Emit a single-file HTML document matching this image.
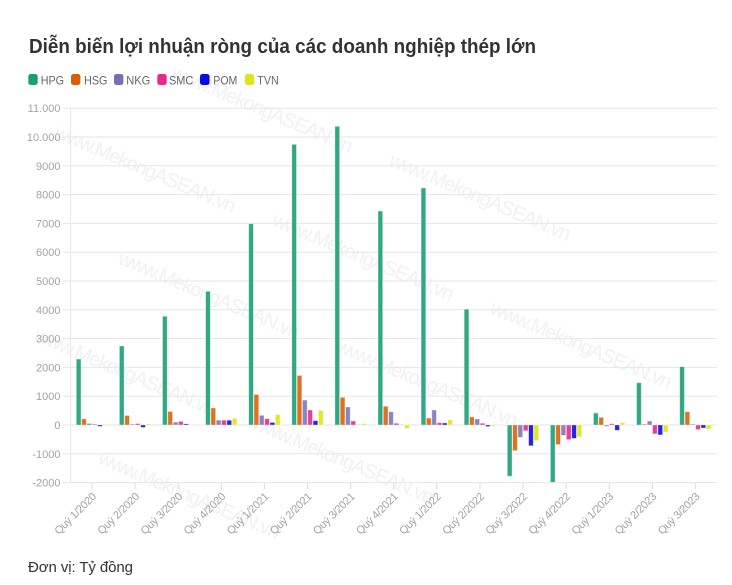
<!DOCTYPE html>
<html><head><meta charset="utf-8">
<style>
html,body{margin:0;padding:0;background:#fff;width:732px;height:585px;overflow:hidden;}
svg{display:block;overflow:hidden;font-family:"Liberation Sans","DejaVu Sans",sans-serif;}
.wm{fill:#f0f1f5;font-size:20px;}
.yl{fill:#a3a3a3;font-size:11px;text-anchor:end;}
.xl{fill:#a3a3a3;font-size:11px;text-anchor:end;}
.g rect{stroke:rgba(255,255,255,0.45);stroke-width:0.8;vector-effect:non-scaling-stroke;}
.a{fill:#1b9e77;fill-opacity:.9}.b{fill:#d95f02;fill-opacity:.88}.c{fill:#7570b3;fill-opacity:.85}
.d{fill:#e7298a;fill-opacity:.9}.e{fill:#0a0ae6;fill-opacity:.9}.f{fill:#dfe60f;fill-opacity:.9}
</style></head>
<body>
<svg width="732" height="585" viewBox="0 0 732 585" xmlns="http://www.w3.org/2000/svg">
<!-- watermarks -->
<g>
<text class="wm" transform="translate(53,137) rotate(23)" textLength="195">www.MekongASEAN.vn</text>
<text class="wm" transform="translate(271,225) rotate(23)" textLength="195">www.MekongASEAN.vn</text>
<text class="wm" transform="translate(489,313) rotate(23)" textLength="195">www.MekongASEAN.vn</text>
<text class="wm" transform="translate(170,77) rotate(23)" textLength="195">www.MekongASEAN.vn</text>
<text class="wm" transform="translate(388,165) rotate(23)" textLength="195">www.MekongASEAN.vn</text>
<text class="wm" transform="translate(117,263) rotate(23)" textLength="195">www.MekongASEAN.vn</text>
<text class="wm" transform="translate(335,351) rotate(23)" textLength="195">www.MekongASEAN.vn</text>
<text class="wm" transform="translate(33,340) rotate(23)" textLength="195">www.MekongASEAN.vn</text>
<text class="wm" transform="translate(251,428) rotate(23)" textLength="195">www.MekongASEAN.vn</text>
<text class="wm" transform="translate(97,463) rotate(23)" textLength="195">www.MekongASEAN.vn</text>
</g>

<!-- title -->
<text x="29" y="53" font-size="20" font-weight="bold" fill="#333" textLength="507" lengthAdjust="spacingAndGlyphs">Diễn biến lợi nhuận ròng của các doanh nghiệp thép lớn</text>

<!-- legend -->
<g font-size="12" fill="#666">
<rect x="28.3" y="74" width="9.4" height="11" rx="2.5" fill="#1b9e77"/><text x="40.7" y="84.3" textLength="23.3" lengthAdjust="spacingAndGlyphs">HPG</text>
<rect x="71" y="74" width="9.4" height="11" rx="2.5" fill="#d95f02"/><text x="84" y="84.3" textLength="23.5" lengthAdjust="spacingAndGlyphs">HSG</text>
<rect x="114" y="74" width="9.4" height="11" rx="2.5" fill="#7570b3"/><text x="126.3" y="84.3" textLength="24" lengthAdjust="spacingAndGlyphs">NKG</text>
<rect x="157.3" y="74" width="9.4" height="11" rx="2.5" fill="#e7298a"/><text x="169" y="84.3" textLength="24.3" lengthAdjust="spacingAndGlyphs">SMC</text>
<rect x="200" y="74" width="9.6" height="11" rx="2.5" fill="#0a0ae6"/><text x="213.3" y="84.3" textLength="24" lengthAdjust="spacingAndGlyphs">POM</text>
<rect x="245" y="74" width="9.2" height="11" rx="2.5" fill="#dde61a"/><text x="257.3" y="84.3" textLength="21.4" lengthAdjust="spacingAndGlyphs">TVN</text>
</g>

<!-- gridlines -->
<g stroke="#e6e6e6" stroke-width="1">
<line x1="63" x2="717" y1="108.2" y2="108.2"/>
<line x1="63" x2="717" y1="137" y2="137"/>
<line x1="63" x2="717" y1="165.8" y2="165.8"/>
<line x1="63" x2="717" y1="194.6" y2="194.6"/>
<line x1="63" x2="717" y1="223.4" y2="223.4"/>
<line x1="63" x2="717" y1="252.2" y2="252.2"/>
<line x1="63" x2="717" y1="281" y2="281"/>
<line x1="63" x2="717" y1="309.8" y2="309.8"/>
<line x1="63" x2="717" y1="338.6" y2="338.6"/>
<line x1="63" x2="717" y1="367.4" y2="367.4"/>
<line x1="63" x2="717" y1="396.2" y2="396.2"/>
<line x1="63" x2="717" y1="425" y2="425"/>
<line x1="63" x2="717" y1="453.8" y2="453.8"/>
<line x1="63" x2="717" y1="482.6" y2="482.6"/>
<line x1="70.5" x2="70.5" y1="108" y2="483"/>
</g>
<!-- x ticks -->
<g stroke="#dcdcdc" stroke-width="1">
<line x1="92" x2="92" y1="483" y2="489"/>
<line x1="135.1" x2="135.1" y1="483" y2="489"/>
<line x1="178.2" x2="178.2" y1="483" y2="489"/>
<line x1="221.3" x2="221.3" y1="483" y2="489"/>
<line x1="264.4" x2="264.4" y1="483" y2="489"/>
<line x1="307.5" x2="307.5" y1="483" y2="489"/>
<line x1="350.6" x2="350.6" y1="483" y2="489"/>
<line x1="393.7" x2="393.7" y1="483" y2="489"/>
<line x1="436.8" x2="436.8" y1="483" y2="489"/>
<line x1="479.9" x2="479.9" y1="483" y2="489"/>
<line x1="523" x2="523" y1="483" y2="489"/>
<line x1="566.1" x2="566.1" y1="483" y2="489"/>
<line x1="609.2" x2="609.2" y1="483" y2="489"/>
<line x1="652.3" x2="652.3" y1="483" y2="489"/>
<line x1="695.4" x2="695.4" y1="483" y2="489"/>
</g>

<!-- y labels -->
<g class="yl">
<text x="60.5" y="112.2">11.000</text>
<text x="60.5" y="141">10.000</text>
<text x="60.5" y="169.8">9000</text>
<text x="60.5" y="198.6">8000</text>
<text x="60.5" y="227.4">7000</text>
<text x="60.5" y="256.2">6000</text>
<text x="60.5" y="285">5000</text>
<text x="60.5" y="313.8">4000</text>
<text x="60.5" y="342.6">3000</text>
<text x="60.5" y="371.4">2000</text>
<text x="60.5" y="400.2">1000</text>
<text x="60.5" y="429">0</text>
<text x="60.5" y="457.8">-1000</text>
<text x="60.5" y="486.6">-2000</text>
</g>

<!-- bars -->
<g class="g" transform="translate(92,425) scale(1,-0.0288)">
<rect class="a" x="-15.7" y="0" width="4.7" height="2290"/>
<rect class="b" x="-10.37" y="0" width="4.7" height="215"/>
<rect class="c" x="-5.04" y="0" width="4.7" height="55"/>
<rect class="d" x="0.29" y="0" width="4.7" height="30"/>
<rect class="e" x="5.62" y="-50" width="4.7" height="50"/>
<rect class="f" x="10.95" y="0" width="4.7" height="25"/>
</g>
<g class="g" transform="translate(135.1,425) scale(1,-0.0288)">
<rect class="a" x="-15.7" y="0" width="4.7" height="2745"/>
<rect class="b" x="-10.37" y="0" width="4.7" height="330"/>
<rect class="c" x="-5.04" y="0" width="4.7" height="30"/>
<rect class="d" x="0.29" y="0" width="4.7" height="50"/>
<rect class="e" x="5.62" y="-85" width="4.7" height="85"/>
<rect class="f" x="10.95" y="0" width="4.7" height="40"/>
</g>
<g class="g" transform="translate(178.2,425) scale(1,-0.0288)">
<rect class="a" x="-15.7" y="0" width="4.7" height="3775"/>
<rect class="b" x="-10.37" y="0" width="4.7" height="470"/>
<rect class="c" x="-5.04" y="0" width="4.7" height="100"/>
<rect class="d" x="0.29" y="0" width="4.7" height="125"/>
<rect class="e" x="5.62" y="0" width="4.7" height="40"/>
<rect class="f" x="10.95" y="0" width="4.7" height="10"/>
</g>
<g class="g" transform="translate(221.3,425) scale(1,-0.0288)">
<rect class="a" x="-15.7" y="0" width="4.7" height="4640"/>
<rect class="b" x="-10.37" y="0" width="4.7" height="590"/>
<rect class="c" x="-5.04" y="0" width="4.7" height="170"/>
<rect class="d" x="0.29" y="0" width="4.7" height="165"/>
<rect class="e" x="5.62" y="0" width="4.7" height="165"/>
<rect class="f" x="10.95" y="0" width="4.7" height="230"/>
</g>
<g class="g" transform="translate(264.4,425) scale(1,-0.0288)">
<rect class="a" x="-15.7" y="0" width="4.7" height="6990"/>
<rect class="b" x="-10.37" y="0" width="4.7" height="1060"/>
<rect class="c" x="-5.04" y="0" width="4.7" height="335"/>
<rect class="d" x="0.29" y="0" width="4.7" height="220"/>
<rect class="e" x="5.62" y="0" width="4.7" height="90"/>
<rect class="f" x="10.95" y="0" width="4.7" height="360"/>
</g>
<g class="g" transform="translate(307.5,425) scale(1,-0.0288)">
<rect class="a" x="-15.7" y="0" width="4.7" height="9745"/>
<rect class="b" x="-10.37" y="0" width="4.7" height="1720"/>
<rect class="c" x="-5.04" y="0" width="4.7" height="865"/>
<rect class="d" x="0.29" y="0" width="4.7" height="520"/>
<rect class="e" x="5.62" y="0" width="4.7" height="150"/>
<rect class="f" x="10.95" y="0" width="4.7" height="510"/>
</g>
<g class="g" transform="translate(350.6,425) scale(1,-0.0288)">
<rect class="a" x="-15.7" y="0" width="4.7" height="10370"/>
<rect class="b" x="-10.37" y="0" width="4.7" height="960"/>
<rect class="c" x="-5.04" y="0" width="4.7" height="625"/>
<rect class="d" x="0.29" y="0" width="4.7" height="140"/>
<rect class="e" x="5.62" y="0" width="4.7" height="5"/>
<rect class="f" x="10.95" y="0" width="4.7" height="50"/>
</g>
<g class="g" transform="translate(393.7,425) scale(1,-0.0288)">
<rect class="a" x="-15.7" y="0" width="4.7" height="7430"/>
<rect class="b" x="-10.37" y="0" width="4.7" height="650"/>
<rect class="c" x="-5.04" y="0" width="4.7" height="460"/>
<rect class="d" x="0.29" y="0" width="4.7" height="60"/>
<rect class="e" x="5.62" y="0" width="4.7" height="5"/>
<rect class="f" x="10.95" y="-115" width="4.7" height="115"/>
</g>
<g class="g" transform="translate(436.8,425) scale(1,-0.0288)">
<rect class="a" x="-15.7" y="0" width="4.7" height="8230"/>
<rect class="b" x="-10.37" y="0" width="4.7" height="240"/>
<rect class="c" x="-5.04" y="0" width="4.7" height="520"/>
<rect class="d" x="0.29" y="0" width="4.7" height="80"/>
<rect class="e" x="5.62" y="0" width="4.7" height="70"/>
<rect class="f" x="10.95" y="0" width="4.7" height="175"/>
</g>
<g class="g" transform="translate(479.9,425) scale(1,-0.0288)">
<rect class="a" x="-15.7" y="0" width="4.7" height="4020"/>
<rect class="b" x="-10.37" y="0" width="4.7" height="280"/>
<rect class="c" x="-5.04" y="0" width="4.7" height="210"/>
<rect class="d" x="0.29" y="0" width="4.7" height="60"/>
<rect class="e" x="5.62" y="-55" width="4.7" height="55"/>
<rect class="f" x="10.95" y="-35" width="4.7" height="35"/>
</g>
<g class="g" transform="translate(523,425) scale(1,-0.0288)">
<rect class="a" x="-15.7" y="-1780" width="4.7" height="1780"/>
<rect class="b" x="-10.37" y="-890" width="4.7" height="890"/>
<rect class="c" x="-5.04" y="-430" width="4.7" height="430"/>
<rect class="d" x="0.29" y="-200" width="4.7" height="200"/>
<rect class="e" x="5.62" y="-720" width="4.7" height="720"/>
<rect class="f" x="10.95" y="-545" width="4.7" height="545"/>
</g>
<g class="g" transform="translate(566.1,425) scale(1,-0.0288)">
<rect class="a" x="-15.7" y="-1990" width="4.7" height="1990"/>
<rect class="b" x="-10.37" y="-680" width="4.7" height="680"/>
<rect class="c" x="-5.04" y="-360" width="4.7" height="360"/>
<rect class="d" x="0.29" y="-510" width="4.7" height="510"/>
<rect class="e" x="5.62" y="-465" width="4.7" height="465"/>
<rect class="f" x="10.95" y="-405" width="4.7" height="405"/>
</g>
<g class="g" transform="translate(609.2,425) scale(1,-0.0288)">
<rect class="a" x="-15.7" y="0" width="4.7" height="415"/>
<rect class="b" x="-10.37" y="0" width="4.7" height="265"/>
<rect class="c" x="-5.04" y="-45" width="4.7" height="45"/>
<rect class="d" x="0.29" y="0" width="4.7" height="45"/>
<rect class="e" x="5.62" y="-185" width="4.7" height="185"/>
<rect class="f" x="10.95" y="0" width="4.7" height="80"/>
</g>
<g class="g" transform="translate(652.3,425) scale(1,-0.0288)">
<rect class="a" x="-15.7" y="0" width="4.7" height="1470"/>
<rect class="b" x="-10.37" y="0" width="4.7" height="30"/>
<rect class="c" x="-5.04" y="0" width="4.7" height="140"/>
<rect class="d" x="0.29" y="-310" width="4.7" height="310"/>
<rect class="e" x="5.62" y="-345" width="4.7" height="345"/>
<rect class="f" x="10.95" y="-245" width="4.7" height="245"/>
</g>
<g class="g" transform="translate(695.4,425) scale(1,-0.0288)">
<rect class="a" x="-15.7" y="0" width="4.7" height="2025"/>
<rect class="b" x="-10.37" y="0" width="4.7" height="460"/>
<rect class="c" x="-5.04" y="0" width="4.7" height="30"/>
<rect class="d" x="0.29" y="-160" width="4.7" height="160"/>
<rect class="e" x="5.62" y="-105" width="4.7" height="105"/>
<rect class="f" x="10.95" y="-150" width="4.7" height="150"/>
</g>

<!-- x labels -->
<g class="xl">
<text transform="translate(97,497) rotate(-45)" textLength="54">Quý 1/2020</text>
<text transform="translate(140.1,497) rotate(-45)" textLength="54">Quý 2/2020</text>
<text transform="translate(183.2,497) rotate(-45)" textLength="54">Quý 3/2020</text>
<text transform="translate(226.3,497) rotate(-45)" textLength="54">Quý 4/2020</text>
<text transform="translate(269.4,497) rotate(-45)" textLength="54">Quý 1/2021</text>
<text transform="translate(312.5,497) rotate(-45)" textLength="54">Quý 2/2021</text>
<text transform="translate(355.6,497) rotate(-45)" textLength="54">Quý 3/2021</text>
<text transform="translate(398.7,497) rotate(-45)" textLength="54">Quý 4/2021</text>
<text transform="translate(441.8,497) rotate(-45)" textLength="54">Quý 1/2022</text>
<text transform="translate(484.9,497) rotate(-45)" textLength="54">Quý 2/2022</text>
<text transform="translate(528,497) rotate(-45)" textLength="54">Quý 3/2022</text>
<text transform="translate(571.1,497) rotate(-45)" textLength="54">Quý 4/2022</text>
<text transform="translate(614.2,497) rotate(-45)" textLength="54">Quý 1/2023</text>
<text transform="translate(657.3,497) rotate(-45)" textLength="54">Quý 2/2023</text>
<text transform="translate(700.4,497) rotate(-45)" textLength="54">Quý 3/2023</text>
</g>

<!-- footer -->
<text x="28" y="572" font-size="15" fill="#333" textLength="105">Đơn vị: Tỷ đồng</text>
</svg>
</body></html>
